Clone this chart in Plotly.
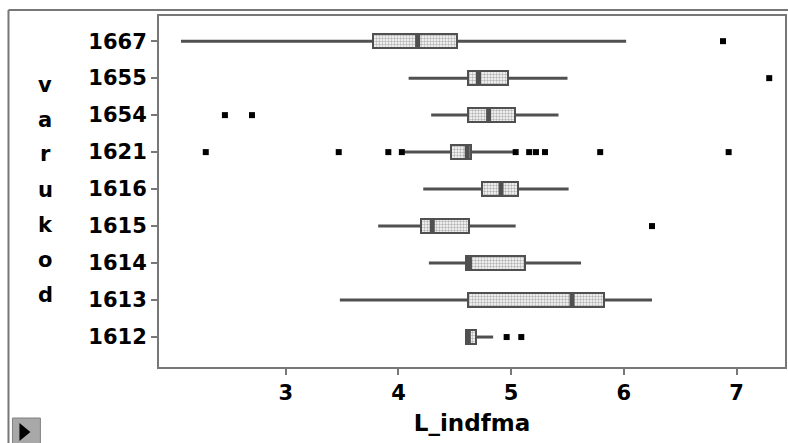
import plotly.graph_objects as go

# ---- data ----
categories = ["1612", "1613", "1614", "1615", "1616", "1621", "1654", "1655", "1667"]
whisker_low = [4.60, 3.48, 4.27, 3.82, 4.22, 4.04, 4.29, 4.09, 2.07]
q1 = [4.60, 4.62, 4.60, 4.20, 4.74, 4.47, 4.62, 4.62, 3.77]
median = [4.62, 5.54, 4.63, 4.30, 4.91, 4.61, 4.80, 4.71, 4.17]
q3 = [4.69, 5.82, 5.12, 4.63, 5.06, 4.64, 5.03, 4.97, 4.52]
whisker_high = [4.84, 6.25, 5.62, 5.04, 5.51, 5.04, 5.42, 5.50, 6.02]

outlier_cat = ["1612", "1612",
               "1615",
               "1621", "1621", "1621", "1621", "1621", "1621", "1621", "1621", "1621", "1621",
               "1654", "1654",
               "1655",
               "1667"]
outlier_val = [4.96, 5.09,
               6.25,
               2.29, 3.47, 3.91, 4.03, 5.04, 5.16, 5.22, 5.30, 5.79, 6.93,
               2.46, 2.70,
               7.29,
               6.88]

x_ticks = [3, 4, 5, 6, 7]
x_title = "L_indfma"
y_title = "varukod"

DARK = "#505050"
FONT = "DejaVu Sans"

fig = go.Figure()

# whiskers (two segments per box)
wx, wy = [], []
for c, lo, a, b, hi in zip(categories, whisker_low, q1, q3, whisker_high):
    wx += [lo, a, None, b, hi, None]
    wy += [c, c, None, c, c, None]
fig.add_trace(go.Scatter(x=wx, y=wy, mode="lines",
                         line=dict(color=DARK, width=3), hoverinfo="skip"))

# boxes
fig.add_trace(go.Bar(
    y=categories, x=[b - a for a, b in zip(q1, q3)], base=q1, orientation="h",
    width=0.38,
    marker=dict(color="white",
                line=dict(color=DARK, width=2),
                pattern=dict(shape=".", fgcolor="#6a6a6a", bgcolor="#ffffff",
                             size=3, solidity=0.5)),
))

# medians
fig.add_trace(go.Scatter(
    x=median, y=categories, mode="markers",
    marker=dict(symbol="line-ns", size=11, color=DARK,
                line=dict(color=DARK, width=5)),
))

# outliers
fig.add_trace(go.Scatter(
    x=outlier_val, y=outlier_cat, mode="markers",
    marker=dict(symbol="square", size=6, color="black"),
))

# plot-area geometry (pixels) for paper-coordinate decorations
L, R, T, B = 159, 787, 16, 367
W, H = R - L, B - T


def px(xp):
    return (xp - L) / W


def py(yp):
    return (B - yp) / H


shapes = [
    # outer frame (top and left)
    dict(type="line", xref="paper", yref="paper", x0=px(8), x1=px(790), y0=py(10), y1=py(10),
         line=dict(color="#777777", width=2)),
    dict(type="line", xref="paper", yref="paper", x0=px(8), x1=px(8), y0=py(10), y1=py(445),
         line=dict(color="#777777", width=2)),
    # button bottom-left
    dict(type="rect", xref="paper", yref="paper", x0=px(12), x1=px(40), y0=py(418), y1=py(445),
         fillcolor="#a8a8a8", line=dict(color="#808080", width=1)),
    dict(type="path", xref="paper", yref="paper",
         path=f"M {px(19)} {py(423)} L {px(19)} {py(441)} L {px(30)} {py(432)} Z",
         fillcolor="black", line=dict(width=0)),
]

annotations = []
letter_y = [85, 120, 154, 190, 225, 260, 295]
for ch, yy in zip(y_title, letter_y):
    annotations.append(dict(text=ch, xref="paper", yref="paper", x=px(45), y=py(yy),
                            showarrow=False, xanchor="center", yanchor="middle",
                            font=dict(family=FONT, size=21, color="black", weight="bold")))

fig.update_layout(
    width=788, height=443,
    margin=dict(l=L, r=788 - R, t=T, b=443 - B),
    paper_bgcolor="white", plot_bgcolor="white",
    showlegend=False,
    shapes=shapes,
    annotations=annotations,
    bargap=0,
)
fig.update_xaxes(
    range=[1.875, 7.43], tickvals=x_ticks, ticktext=[str(t) for t in x_ticks],
    showgrid=False, zeroline=False,
    showline=True, linecolor="#777777", linewidth=2, mirror=True,
    ticks="outside", ticklen=6, tickwidth=2, tickcolor="#777777",
    tickfont=dict(family=FONT, size=21, color="black", weight="bold"),
    title=dict(text=x_title, standoff=11,
               font=dict(family=FONT, size=23, color="black", weight="bold")),
)
fig.update_yaxes(
    type="category", categoryorder="array", categoryarray=categories,
    range=[-0.81, 8.68],
    showgrid=False, zeroline=False,
    showline=True, linecolor="#777777", linewidth=2, mirror=True,
    ticks="outside", ticklen=6, tickwidth=2, tickcolor="#777777",
    tickfont=dict(family=FONT, size=21, color="black", weight="bold"),
)

fig.write_html("out.html")
